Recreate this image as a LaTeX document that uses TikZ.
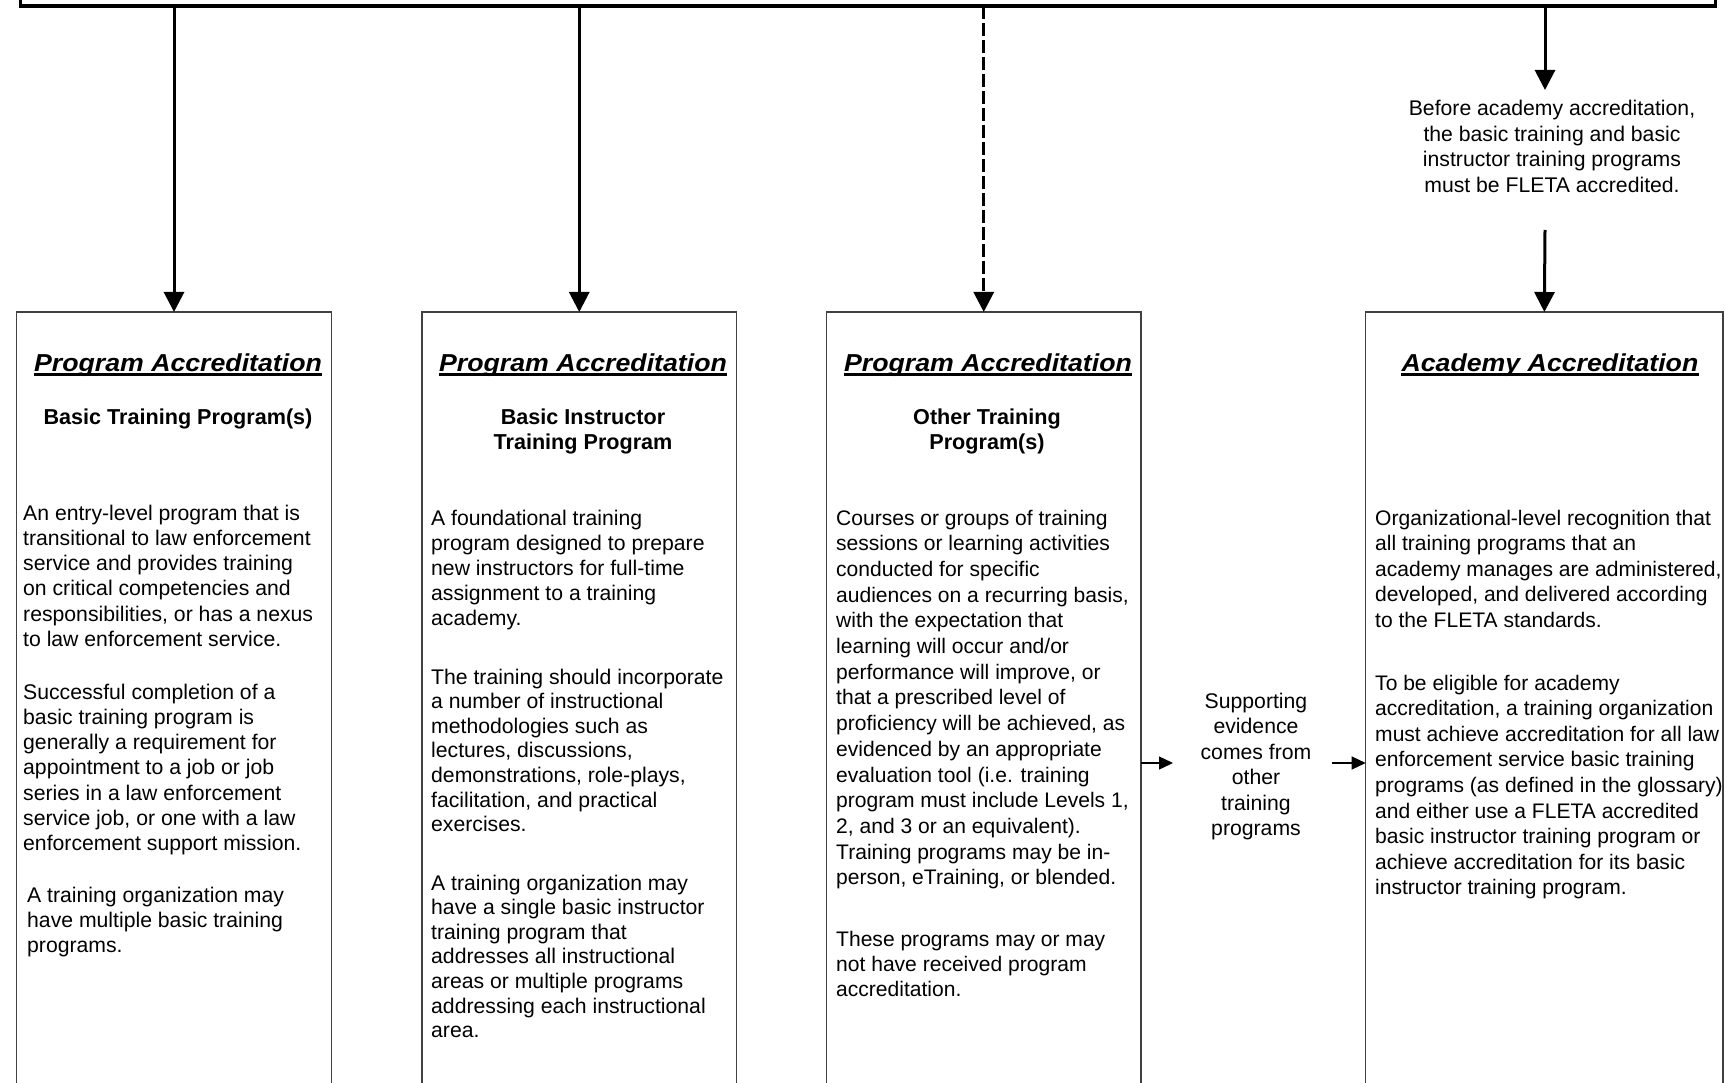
\documentclass[tikz,border=0pt]{standalone}
\usepackage{fontspec}
\setmainfont{Liberation Sans}
\newfontfamily\titlefont[FakeStretch=1.09]{Liberation Sans}
\usetikzlibrary{arrows.meta}
\newcommand{\bodyfont}{\fontsize{21.2}{25.4}\selectfont}
\newcommand{\mylines}[1]{\begin{tabular}[t]{@{}l@{}}#1\end{tabular}}
\newcommand{\myclines}[1]{\begin{tabular}[t]{@{}c@{}}#1\end{tabular}}
\tikzset{
  box/.style={draw=black!75, line width=1.3pt, inner sep=0pt, outer sep=0pt, anchor=north west, minimum height=900pt},
  txt/.style={anchor=base west, inner sep=0pt, font=\fontsize{21.2}{#1}\selectfont},
  txt/.default=25.3,
  txtn/.style={anchor=base west, inner sep=0pt, font=\fontsize{21.05}{#1}\selectfont},
  txtn/.default=25.6,
  ctxt/.style={anchor=base, inner sep=0pt, font=\bodyfont},
  ttl/.style={anchor=base, inner sep=0pt, font=\titlefont\bfseries\itshape\fontsize{24.5}{28}\selectfont},
  subttl/.style={anchor=base, inner sep=0pt, font=\fontsize{21.6}{25.4}\selectfont\bfseries},
  uline/.style={line width=3pt},
  arr/.style={line width=3pt, -{Triangle[width=20pt,length=20pt]}},
  sarr/.style={line width=1.3pt, -{Triangle[width=13pt,length=14pt]}},
}
\begin{document}
\begin{tikzpicture}[x=1pt,y=-1pt]
\useasboundingbox (0,0) rectangle (1727,1083);
\clip (0,0) rectangle (1727,1083);
% top bar
\node[draw, line width=3.5pt, inner sep=0pt, outer sep=0pt, minimum width=1695pt, minimum height=100pt, anchor=south west] (bar) at (20.5,6) {};
% boxes
\node[box, minimum width=315pt] (b1) at (16.5,312) {};
\node[box, minimum width=314.5pt] (b2) at (422,312) {};
\node[box, minimum width=314.5pt] (b3) at (826.5,312) {};
\node[box, minimum width=357.3pt] (b4) at (1365.7,312) {};
% arrows from bar
\draw[arr] (bar.south -| b1.north) -- (b1.north);
\draw[arr] (bar.south -| b2.north) -- (b2.north);
\draw[arr, dash pattern=on 13pt off 4pt] (bar.south -| b3.north) -- (b3.north);
\coordinate (n1) at (1545,90);
\coordinate (n2) at (1545,230);
\draw[arr] (bar.south -| n1) -- (n1);
\draw[arr] (n2) -- (b4.north);
% note
\node[ctxt] (note) at (1552,116) {\myclines{Before academy accreditation,\\the basic training and basic\\instructor training programs\\must be FLETA accredited.}};
% titles
\node[ttl] (t1) at (178,371) {Program Accreditation};
\node[ttl] (t2) at (583,371) {Program Accreditation};
\node[ttl] (t3) at (988,371) {Program Accreditation};
\node[ttl] (t4) at (1550,371) {Academy Accreditation};
\foreach \t in {t1,t2,t3,t4}{
  \draw[uline] ([yshift=-3.5pt]\t.base west) -- ([yshift=-3.5pt]\t.base east);
}
% subtitles
\node[subttl] (s1) at (178,424) {Basic Training Program(s)};
\node[subttl] (s2) at (583,424) {\myclines{Basic Instructor\\Training Program}};
\node[subttl] (s3) at (987,424) {\myclines{Other Training\\Program(s)}};
% box 1 text
\node[txt] (p11) at (23,520) {\mylines{An entry-level program that is\\transitional to law enforcement\\service and provides training\\on critical competencies and\\responsibilities, or has a nexus\\to law enforcement service.}};
\node[txt] (p12) at (23,699) {\mylines{Successful completion of a\\basic training program is\\generally a requirement for\\appointment to a job or job\\series in a law enforcement\\service job, or one with a law\\enforcement support mission.}};
\node[txt] (p13) at (27,902) {\mylines{A training organization may\\have multiple basic training\\programs.}};
% box 2 text
\node[txt=25.1] (p21) at (431,525) {\mylines{A foundational training\\program designed to prepare\\new instructors for full-time\\assignment to a training\\academy.}};
\node[txt=24.6] (p22) at (431,684) {\mylines{The training should incorporate\\a number of instructional\\methodologies such as\\lectures, discussions,\\demonstrations, role-plays,\\facilitation, and practical\\exercises.}};
\node[txt=24.6] (p23) at (431,890) {\mylines{A training organization may\\have a single basic instructor\\training program that\\addresses all instructional\\areas or multiple programs\\addressing each instructional\\area.}};
% box 3 text
\node[txtn=25.7] (p31) at (836,525) {\mylines{Courses or groups of training\\sessions or learning activities\\conducted for specific\\audiences on a recurring basis,\\with the expectation that\\learning will occur and/or\\performance will improve, or\\that a prescribed level of\\proficiency will be achieved, as\\evidenced by an appropriate\\evaluation tool (i.e. training\\program must include Levels 1,\\2, and 3 or an equivalent).\\Training programs may be in-\\person, eTraining, or blended.}};
\node[txtn=25.3] (p32) at (836,946) {\mylines{These programs may or may\\not have received program\\accreditation.}};
% supporting evidence
\node[ctxt] (supp) at (1256,708.5) {\myclines{Supporting\\evidence\\comes from\\other\\training\\programs}};
\coordinate (e1) at (1173,763);
\coordinate (e2) at (1332,763);
\draw[sarr] (b3.east |- e1) -- (e1);
\draw[sarr] (e2) -- (b4.west |- e2);
% box 4 text
\node[txtn] (p41) at (1375,525) {\mylines{Organizational-level recognition that\\all training programs that an\\academy manages are administered,\\developed, and delivered according\\to the FLETA standards.}};
\node[txtn] (p42) at (1375,690) {\mylines{To be eligible for academy\\accreditation, a training organization\\must achieve accreditation for all law\\enforcement service basic training\\programs (as defined in the glossary)\\and either use a FLETA accredited\\basic instructor training program or\\achieve accreditation for its basic\\instructor training program.}};
\end{tikzpicture}
\end{document}
